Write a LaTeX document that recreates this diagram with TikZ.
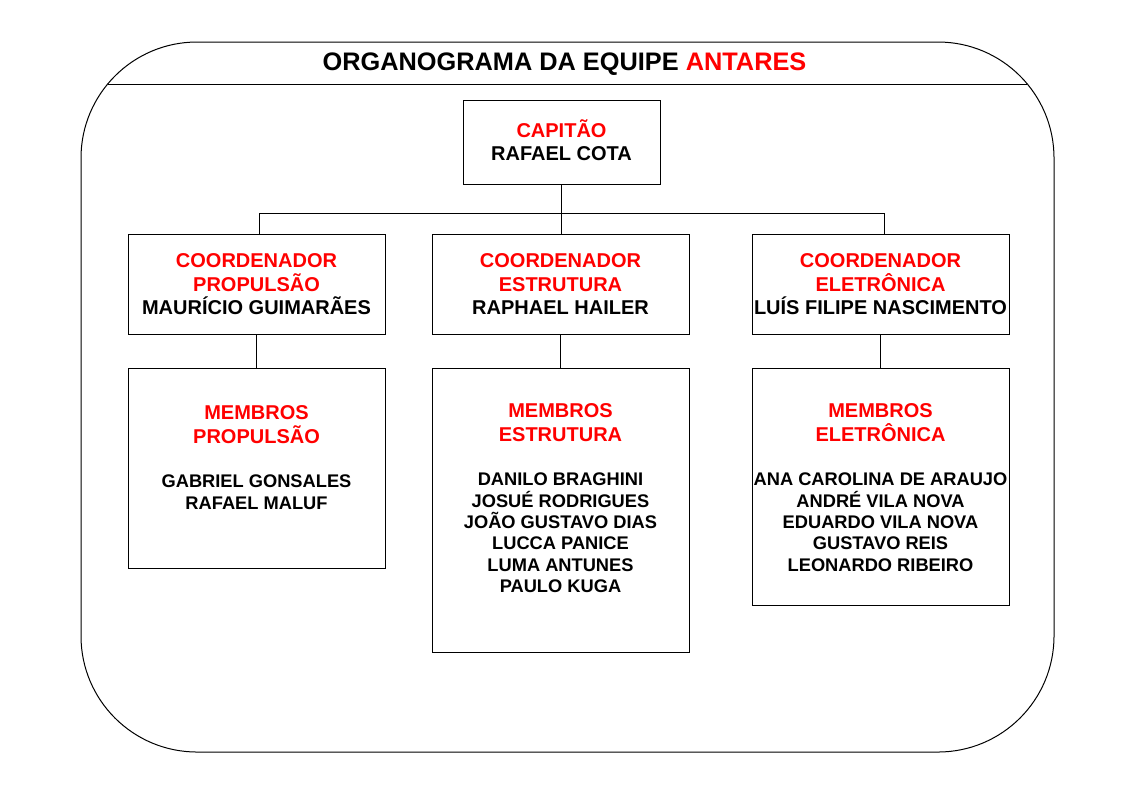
\documentclass[tikz,border=0pt]{standalone}
\usepackage{fontspec}
\setmainfont{Liberation Sans}
\usetikzlibrary{intersections}
\begin{document}
\begin{tikzpicture}[x=0.75pt,y=-0.75pt,
  tbox/.style={draw=black,line width=0.75pt,rectangle,inner sep=0pt,minimum width=192.75pt},
  hd/.style={anchor=base,inner sep=0pt,font=\fontsize{15}{17}\selectfont\bfseries},
  red hd/.style={hd,text=red},
  nm/.style={anchor=base,inner sep=0pt,font=\fontsize{13.7}{16}\selectfont\bfseries},
  conn/.style={draw=black,line width=0.75pt}]
\useasboundingbox (0,0) rectangle (1123,794);
% outer frame and title
\draw[name path=outer,line width=0.75pt,rounded corners=87pt] (81,42) rectangle (1054,752);
\path[name path=tline] (60,84) -- (1080,84);
\draw[line width=0.75pt,name intersections={of=outer and tline}] (intersection-1) -- (intersection-2);
\node[anchor=base,inner sep=0pt,font=\fontsize{19}{22}\selectfont\bfseries] (title) at (564.5,70) {ORGANOGRAMA DA EQUIPE \textcolor{red}{ANTARES}};
% boxes
\node[tbox,minimum width=147.75pt,minimum height=63pt] (cap) at (561.5,142) {};
\node[tbox,minimum height=75pt] (cL) at (256.5,284) {};
\node[tbox,minimum height=75pt] (cM) at (560.5,284) {};
\node[tbox,minimum height=75pt] (cR) at (880.5,284) {};
\node[tbox,minimum height=150pt] (mL) at (256.5,468) {};
\node[tbox,minimum height=213pt] (mM) at (560.5,510) {};
\node[tbox,minimum height=177.75pt] (mR) at (880.5,486.5) {};
% connectors
\coordinate (jl) at (259,213);
\coordinate (jr) at (884,213);
\draw[conn] (cap.south) -- (cap.south |- cM.north);
\draw[conn] (jl |- cL.north) -- (jl) -- (jr) -- (jr |- cR.north);
\draw[conn] (cL.south) -- (mL.north);
\draw[conn] (cM.south) -- (mM.north);
\draw[conn] (cR.south) -- (mR.north);
% captain text
\node[red hd] (t1) at (561.5,137.7) {CAPITÃO};
\node[hd] (t2) at (561.5,160.9) {RAFAEL COTA};
% coordinators
\node[red hd] (l1) at (256.5,267.3) {COORDENADOR};
\node[red hd] (l2) at (256.5,291) {PROPULSÃO};
\node[hd] (l3) at (256.5,314.7) {MAURÍCIO GUIMARÃES};
\node[red hd] (m1) at (560.5,267.3) {COORDENADOR};
\node[red hd] (m2) at (560.5,291) {ESTRUTURA};
\node[hd] (m3) at (560.5,314.7) {RAPHAEL HAILER};
\node[red hd] (r1) at (880.5,267.3) {COORDENADOR};
\node[red hd] (r2) at (880.5,291) {ELETRÔNICA};
\node[hd] (r3) at (880.5,314.7) {LUÍS FILIPE NASCIMENTO};
% members left
\node[red hd] (ml1) at (256.5,419) {MEMBROS};
\node[red hd] (ml2) at (256.5,443) {PROPULSÃO};
\node[nm] (ml3) at (256.5,487.5) {GABRIEL GONSALES};
\node[nm] (ml4) at (256.5,509.5) {RAFAEL MALUF};
% members middle
\node[red hd] (mm1) at (560.5,417) {MEMBROS};
\node[red hd] (mm2) at (560.5,441) {ESTRUTURA};
\node[nm] (mm3) at (560.5,485.5) {DANILO BRAGHINI};
\node[nm] (mm4) at (560.5,507) {JOSUÉ RODRIGUES};
\node[nm] (mm5) at (560.5,528.5) {JOÃO GUSTAVO DIAS};
\node[nm] (mm6) at (560.5,549.8) {LUCCA PANICE};
\node[nm] (mm7) at (560.5,571.2) {LUMA ANTUNES};
\node[nm] (mm8) at (560.5,592.6) {PAULO KUGA};
% members right
\node[red hd] (mr1) at (880.5,417) {MEMBROS};
\node[red hd] (mr2) at (880.5,441) {ELETRÔNICA};
\node[nm] (mr3) at (880.5,485.5) {ANA CAROLINA DE ARAUJO};
\node[nm] (mr4) at (880.5,507) {ANDRÉ VILA NOVA};
\node[nm] (mr5) at (880.5,528.5) {EDUARDO VILA NOVA};
\node[nm] (mr6) at (880.5,549.8) {GUSTAVO REIS};
\node[nm] (mr7) at (880.5,571.2) {LEONARDO RIBEIRO};
\end{tikzpicture}
\end{document}
